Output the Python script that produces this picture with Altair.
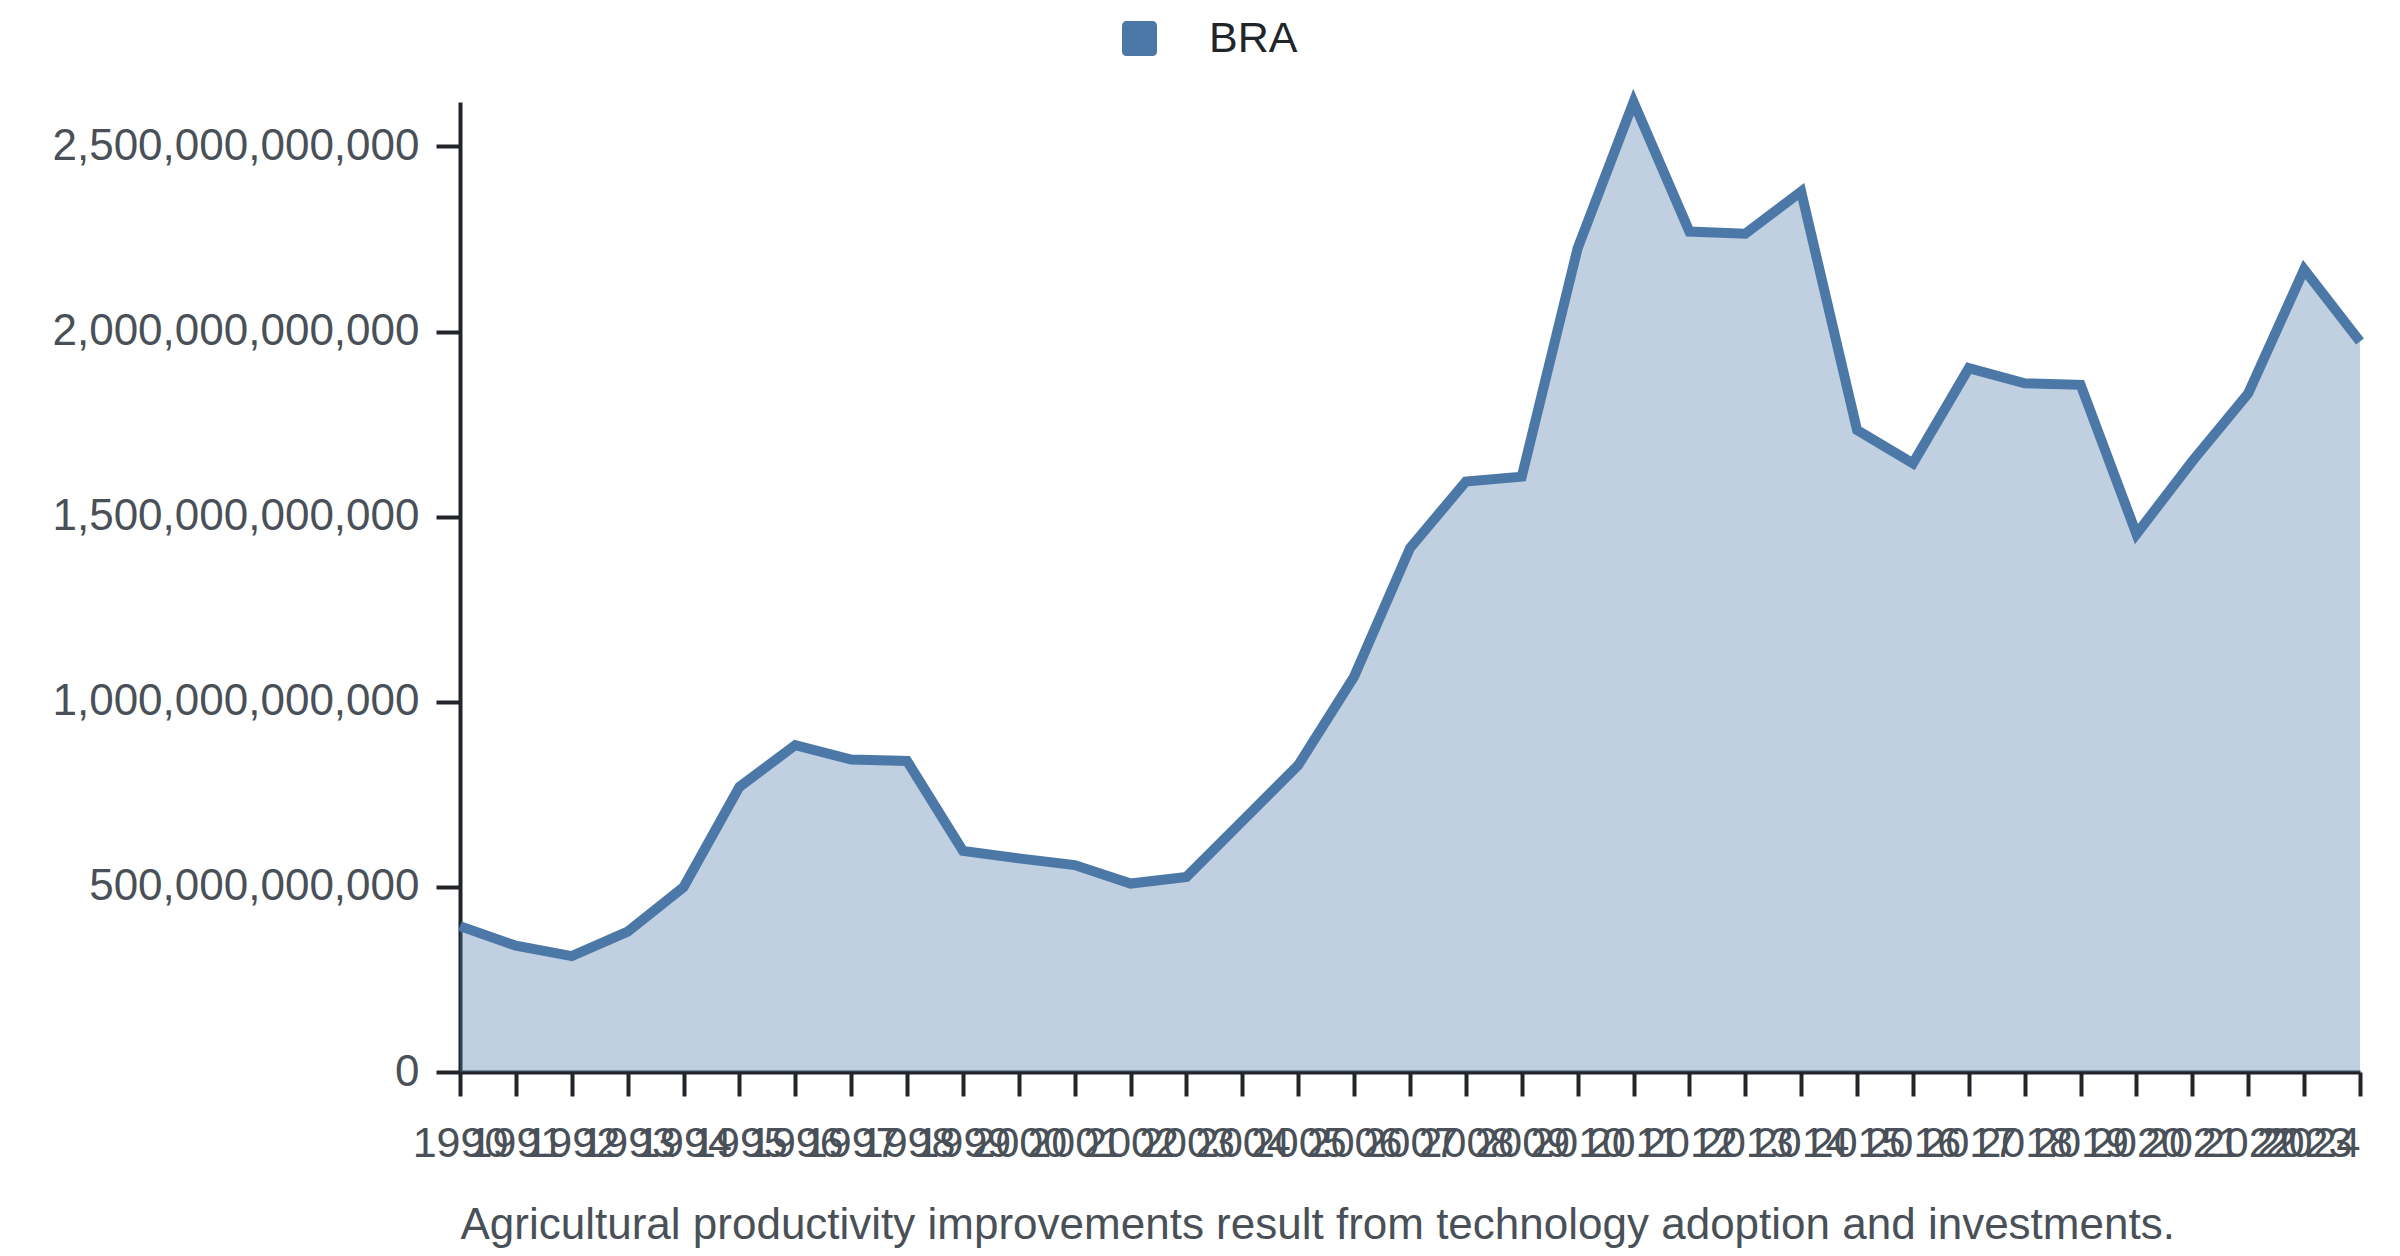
import altair as alt
import pandas as pd

# ---- data ----
years = [1990, 1991, 1992, 1993, 1994, 1995, 1996, 1997, 1998, 1999,
         2000, 2001, 2002, 2003, 2004, 2005, 2006, 2007, 2008, 2009,
         2010, 2011, 2012, 2013, 2014, 2015, 2016, 2017, 2018, 2019,
         2020, 2021, 2022, 2023, 2024]
values_trillion = [0.394, 0.341, 0.313, 0.379, 0.499, 0.770, 0.883, 0.844, 0.840, 0.597,
                   0.577, 0.559, 0.509, 0.527, 0.678, 0.829, 1.068, 1.415, 1.595, 1.608,
                   2.225, 2.620, 2.270, 2.264, 2.378, 1.734, 1.644, 1.901, 1.860, 1.856,
                   1.453, 1.650, 1.833, 2.168, 1.973]
country = ["BRA"] * len(years)
y_tick_values = [0, 500000000000, 1000000000000, 1500000000000, 2000000000000, 2500000000000]
caption = "Agricultural productivity improvements result from technology adoption and investments."

df = pd.DataFrame({
    "year": years,
    "value": [v * 1e12 for v in values_trillion],
    "country": country,
})

FONT = "Liberation Sans"
LABEL = "#495057"
DARK = "#212529"
BLUE = "#4c78a8"
FS = 43

y_max = float(df["value"].max())

x_enc = alt.X(
    "year:Q",
    scale=alt.Scale(domain=[1990, 2024], nice=False, zero=False),
    axis=alt.Axis(
        values=years, format="d", labelOverlap=False, labelFlush=False, labelAngle=0,
        labelAlign={"expr": "datum.value == 2024 ? 'right' : 'center'"},
        labelFont=FONT, labelFontSize=FS, labelColor=LABEL, labelPadding=26,
        tickSize=24, tickWidth=4, tickColor=DARK, domainWidth=4, domainColor=DARK,
        grid=False, title=caption, titleAnchor="start", titleAlign="left",
        titleFont=FONT, titleFontSize=44, titleFontWeight="normal", titleColor=LABEL,
        titlePadding=38, titleLimit=3000,
    ),
)
y_enc = alt.Y(
    "value:Q",
    scale=alt.Scale(domain=[0, y_max], nice=False),
    axis=alt.Axis(
        values=y_tick_values, format=",.0f", title=None, grid=False,
        labelFont=FONT, labelFontSize=44, labelColor=LABEL, labelPadding=17, labelLimit=1000,
        tickSize=24, tickWidth=4, tickColor=DARK, domainWidth=4, domainColor=DARK,
    ),
)

rounded_square = ("M-0.75,-1H0.75A0.25,0.25 0 0 1 1,-0.75V0.75A0.25,0.25 0 0 1 0.75,1"
                  "H-0.75A0.25,0.25 0 0 1 -1,0.75V-0.75A0.25,0.25 0 0 1 -0.75,-1Z")

area = alt.Chart(df).mark_area(fillOpacity=0.35).encode(
    x=x_enc,
    y=y_enc,
    color=alt.Color(
        "country:N",
        scale=alt.Scale(range=[BLUE]),
        legend=alt.Legend(
            title=None, orient="none", legendX=658, legendY=-85, direction="horizontal",
            symbolType=rounded_square, symbolSize=1225, symbolStrokeWidth=0, symbolOpacity=1,
            labelFont=FONT, labelFontSize=FS, labelColor=DARK, labelOffset=48, padding=0,
        ),
    ),
)

line = alt.Chart(df).mark_line(color=BLUE, strokeWidth=10, strokeJoin="miter", strokeCap="butt").encode(
    x=x_enc, y=y_enc
)

chart = (area + line).properties(
    width=1900,
    height=970,
    autosize=alt.AutoSizeParams(type="none"),
    padding={"left": 452, "top": 94, "right": 32, "bottom": 182},
).configure_view(stroke=None, strokeWidth=0)

chart.save("out.html", embed_options={"renderer": "svg", "actions": False})
